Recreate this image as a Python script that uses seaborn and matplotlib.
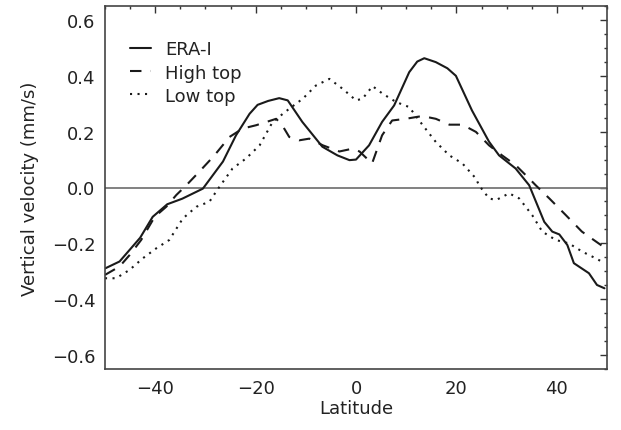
import numpy as np
import pandas as pd
import seaborn as sns
import matplotlib
matplotlib.use("Agg")
import matplotlib.pyplot as plt
from matplotlib.ticker import MultipleLocator

era_lat = [-50, -47.1, -43, -40.5, -37.6, -34.6, -30.5, -26.5, -23.9, -21.2, -19.6, -17.5,
           -15.3, -13.6, -10.7, -6.7, -3.7, -1.3, 0, 2.6, 5.2, 7.6, 10.6, 12.2, 13.6, 15.9,
           18.2, 19.9, 23.1, 26.5, 28.5, 31.8, 34.5, 37.5, 39.1, 40.5, 42.1, 43.4, 46.4, 48, 49.5]
era_v = [-0.29, -0.265, -0.18, -0.105, -0.06, -0.04, -0.004, 0.093, 0.187, 0.264, 0.296, 0.31,
         0.32, 0.312, 0.235, 0.146, 0.115, 0.098, 0.1, 0.151, 0.235, 0.294, 0.413, 0.451, 0.463, 0.449,
         0.427, 0.40, 0.276, 0.164, 0.115, 0.068, 0.008, -0.123, -0.158, -0.168, -0.206, -0.271, -0.307, -0.349, -0.361]

high_lat = [-50, -47.1, -45.1, -42.8, -40.1, -37.8, -35.8, -33.8, -31.2, -28.2, -25.2, -22.6,
            -19.9, -15.9, -14.7, -13.3, -11.3, -9.3, -6.6, -3.3, -0.7, 0.7, 3.2, 5.2, 7.2, 9.9,
            13.2, 15.9, 18.6, 21.2, 23.9, 26.5, 29.1, 31.8, 34.5, 35.8, 38.5, 41.8, 45, 49.5]
high_v = [-0.313, -0.283, -0.242, -0.188, -0.105, -0.069, -0.027, 0.008, 0.057, 0.115, 0.181, 0.211,
          0.223, 0.246, 0.223, 0.181, 0.169, 0.175, 0.151, 0.129, 0.139, 0.129, 0.086, 0.187, 0.24, 0.246,
          0.256, 0.246, 0.225, 0.225, 0.199, 0.151, 0.115, 0.08, 0.032, 0.008, -0.039, -0.099, -0.158, -0.215]

low_lat = [-50, -47.8, -45.1, -42.5, -39.8, -37.2, -34.5, -31.8, -29.2, -27.5, -24.6, -21.9,
           -19.2, -16.6, -13.3, -10.6, -8, -5.3, -2.7, 0, 1.3, 3.3, 5.3, 8, 10.6, 13.3, 15.9,
           18.6, 21.2, 23.9, 24.5, 26.5, 27.9, 30.5, 32.5, 35.1, 37.1, 39.8, 42.4, 45.1, 47.8, 49.5]
low_v = [-0.325, -0.325, -0.295, -0.254, -0.218, -0.188, -0.111, -0.069, -0.051, -0.005, 0.068, 0.104,
         0.151, 0.235, 0.282, 0.318, 0.365, 0.389, 0.354, 0.312, 0.318, 0.363, 0.336, 0.306, 0.288, 0.223, 0.163,
         0.115, 0.086, 0.032, 0.008, -0.039, -0.045, -0.021, -0.039, -0.099, -0.158, -0.188, -0.2, -0.23, -0.254, -0.271]

series_names = ["ERA-I", "High top", "Low top"]
xtick_vals = [-40, -20, 0, 20, 40]
xtick_labels = ["\u221240", "\u221220", "0", "20", "40"]
ytick_vals = [-0.6, -0.4, -0.2, 0.0, 0.2, 0.4, 0.6]
ytick_labels = ["\u22120.6", "\u22120.4", "\u22120.2", "0.0", "0.2", "0.4", "0.6"]

df = pd.concat([
    pd.DataFrame({"Latitude": era_lat, "v": era_v, "src": series_names[0]}),
    pd.DataFrame({"Latitude": high_lat, "v": high_v, "src": series_names[1]}),
    pd.DataFrame({"Latitude": low_lat, "v": low_v, "src": series_names[2]}),
])

sns.set_style("white")
plt.rcParams['font.family'] = ['DejaVu Sans']

fig = plt.figure(figsize=(6.21, 4.31), dpi=100)
ax = fig.add_axes([105/621, 1 - 370/431, (607 - 105)/621, (370 - 7)/431])

ax.axhline(0, color="#777777", lw=1.3, zorder=1)

styles = {"ERA-I": "-", "High top": (0, (5.5, 4.5)), "Low top": (0, (1, 2.6))}
for name in series_names:
    sub = df[df.src == name]
    sns.lineplot(data=sub, x="Latitude", y="v", ax=ax, color="#1a1a1a", lw=1.5,
                 linestyle=styles[name], label=name, sort=False, estimator=None)

ax.set_xlim(-50, 50)
ax.set_ylim(-0.65, 0.65)
ax.xaxis.set_minor_locator(MultipleLocator(5))
ax.yaxis.set_minor_locator(MultipleLocator(0.05))
ax.set_xticks(xtick_vals)
ax.set_xticklabels(xtick_labels)
ax.set_yticks(ytick_vals)
ax.set_yticklabels(ytick_labels)
ax.tick_params(which="both", direction="in", top=True, right=True, color="#333333",
               labelsize=13, labelcolor="#222222")
ax.tick_params(which="major", length=5, width=1, pad=7)
ax.tick_params(which="minor", length=2.5, width=1)
for s in ax.spines.values():
    s.set_color("#444444")
    s.set_linewidth(1.2)

ax.set_xlabel("Latitude", fontsize=13, color="#222222", labelpad=2)
ax.set_ylabel("Vertical velocity (mm/s)", fontsize=13, color="#222222", labelpad=9)

leg = ax.legend(loc="upper left", frameon=False, fontsize=13, handlelength=1.15,
                handletextpad=0.8, labelspacing=0.28, borderaxespad=0.0,
                bbox_to_anchor=(0.035, 0.925))
for t in leg.get_texts():
    t.set_color("#222222")

fig.savefig("out.png", dpi=100)
